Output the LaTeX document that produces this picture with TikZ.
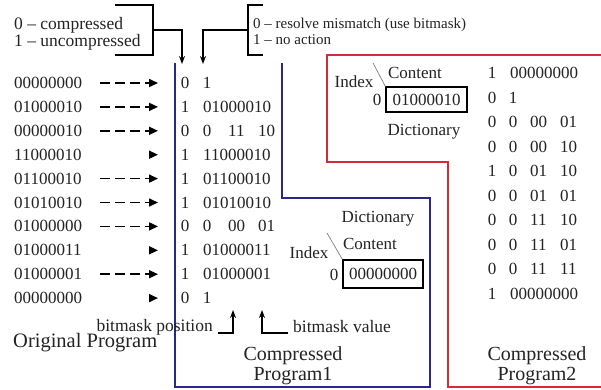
\documentclass[tikz,border=0pt]{standalone}
\usepackage{fontspec}
\setmainfont{Liberation Serif}
\usetikzlibrary{arrows.meta}
\definecolor{pblue}{RGB}{40,40,135}
\definecolor{pred}{RGB}{210,45,55}
\definecolor{ink}{RGB}{35,35,35}
\begin{document}
\begin{tikzpicture}[x=1pt,y=-1pt,
  txt/.style={inner sep=0pt,text=ink,font=\fontsize{17}{20}\selectfont},
  dw/.style={txt,anchor=west},
  dc/.style={txt,anchor=center},
  leftleg/.style={inner sep=0pt,text=ink,anchor=west,font=\fontsize{17.5}{18}\selectfont},
  rightleg/.style={inner sep=0pt,text=ink,anchor=west,font=\fontsize{15}{16}\selectfont},
  biglbl/.style={inner sep=0pt,text=ink,align=center,font=\fontsize{20}{20}\selectfont},
  brk/.style={line width=1.4pt,draw=black},
  darr/.style={line width=1.6pt,dash pattern=on 10pt off 5pt,-{Triangle[length=9pt,width=8pt]}},
  sarr/.style={line width=1.6pt,-{Triangle[length=9pt,width=8pt]}},
  smallhead/.style={-{Stealth[length=8pt,width=6pt]}},
  dictbox/.style={draw=black,line width=1.3pt,inner sep=0pt,text=ink,font=\fontsize{17}{20}\selectfont}
]
\useasboundingbox (0,0) rectangle (601,389);
\fill[white] (0,0) rectangle (601,389);

% ---------- legends and brackets ----------
\node[leftleg] (legA1) at (14,25) {0 -- compressed};
\node[leftleg] (legA2) at (14,42) {1 -- uncompressed};
\node[rightleg] (legB1) at (253,25) {0 -- resolve mismatch (use bitmask)};
\node[rightleg] (legB2) at (253,40) {1 -- no action};

\coordinate (la) at (115,5);  \coordinate (lb) at (153,5);
\coordinate (lc) at (153,55); \coordinate (ld) at (115,55);
\coordinate (lm) at (153,30); \coordinate (ln) at (182,30);
\coordinate (lt) at (182,64);
\draw[brk] (la) -- (lb) -- (lc) -- (ld);
\draw[brk,smallhead] (lm) -- (ln) -- (lt);

\coordinate (ra) at (263,5);  \coordinate (rb) at (248,5);
\coordinate (rc) at (248,55); \coordinate (rd) at (263,55);
\coordinate (rm) at (248,30); \coordinate (rn) at (203,30);
\coordinate (rt) at (203,64);
\draw[brk] (ra) -- (rb) -- (rc) -- (rd);
\draw[brk,smallhead] (rm) -- (rn) -- (rt);

% ---------- frames ----------
\draw[pblue,line width=1.4pt] (175,63) -- (175,387) -- (430,387) -- (430,198) -- (282,198) -- (282,63);
\draw[pred,line width=1.4pt] (601,55) -- (327,55) -- (327,162) -- (448,162) -- (448,387) -- (601,387);

% ---------- original program ----------
\foreach \i/\y/\t in {1/83/00000000,2/106.9/01000010,3/130.8/00000010,4/154.7/11000010,
  5/178.6/01100010,6/202.5/01010010,7/226.4/01000000,8/250.3/01000011,9/274.2/01000001,10/298.1/00000000}
  {\node[dw] (o\i) at (14,\y) {\t};}

% ---------- arrows ----------
\foreach \i/\y in {1/83,2/106.9,3/130.8,5/178.6,6/202.5,7/226.4,9/274.2}
  {\coordinate (s\i) at (100,\y); \coordinate (e\i) at (158,\y);
   \draw[darr] (s\i) -- (e\i);}
\foreach \i/\y in {4/154.7,8/250.3,10/298.1}
  {\coordinate (s\i) at (149,\y); \coordinate (e\i) at (158,\y);
   \draw[sarr] (s\i) -- (e\i);}

% ---------- compressed program 1 ----------
\node[dc] (pa1) at (185,83) {0};    \node[dc] (pb1) at (207,83) {1};
\node[dc] (pa2) at (185,106.9) {1}; \node[dw] (pb2) at (203,106.9) {01000010};
\node[dc] (pa3) at (185,130.8) {0}; \node[dc] (pb3) at (207,130.8) {0};
  \node[dw] (pc3) at (228,130.8) {11}; \node[dw] (pd3) at (258,130.8) {10};
\node[dc] (pa4) at (185,154.7) {1}; \node[dw] (pb4) at (203,154.7) {11000010};
\node[dc] (pa5) at (185,178.6) {1}; \node[dw] (pb5) at (203,178.6) {01100010};
\node[dc] (pa6) at (185,202.5) {1}; \node[dw] (pb6) at (203,202.5) {01010010};
\node[dc] (pa7) at (185,226.4) {0}; \node[dc] (pb7) at (207,226.4) {0};
  \node[dw] (pc7) at (228,226.4) {00}; \node[dw] (pd7) at (258,226.4) {01};
\node[dc] (pa8) at (185,250.3) {1}; \node[dw] (pb8) at (203,250.3) {01000011};
\node[dc] (pa9) at (185,274.2) {1}; \node[dw] (pb9) at (203,274.2) {01000001};
\node[dc] (pa10) at (185,298.1) {0}; \node[dc] (pb10) at (207,298.1) {1};

% ---------- dictionary 1 ----------
\node[dc] (d1t) at (378,219) {Dictionary};
\node[dc] (d1c) at (370,244) {Content};
\node[dc] (d1i) at (309,253) {Index};
\node[dc] (d1z) at (334,275) {0};
\node[dictbox,minimum width=80pt,minimum height=28pt] (d1b) at (383,274) {00000000};
\coordinate (d1s) at (327,233);
\draw[gray,line width=0.7pt] (d1s) -- (d1b.north west);

% ---------- dictionary 2 ----------
\node[dc] (d2c) at (415,73) {Content};
\node[dc] (d2i) at (354,82) {Index};
\node[dc] (d2z) at (377,100) {0};
\node[dictbox,minimum width=81pt,minimum height=25pt] (d2b) at (426.5,99.5) {01000010};
\node[dc] (d2t) at (424,132) {Dictionary};
\coordinate (d2s) at (373,63);
\draw[gray,line width=0.7pt] (d2s) -- (d2b.north west);

% ---------- compressed program 2 ----------
\node[dc] (qa1) at (492,73) {1};    \node[dw] (qb1) at (510,73) {00000000};
\node[dc] (qa2) at (492,97.5) {0};  \node[dc] (qb2) at (513,97.5) {1};
\foreach \i/\y/\a/\b/\c/\d in {3/122/0/0/00/01,4/146.5/0/0/00/10,5/171/1/0/01/10,6/195.5/0/0/01/01,
  7/220/0/0/11/10,8/244.5/0/0/11/01,9/269/0/0/11/11}
  {\node[dc] (qa\i) at (492,\y) {\a}; \node[dc] (qb\i) at (513,\y) {\b};
   \node[dw] (qc\i) at (530,\y) {\c}; \node[dw] (qd\i) at (560,\y) {\d};}
\node[dc] (qa10) at (492,293.5) {1}; \node[dw] (qb10) at (510,293.5) {00000000};

% ---------- bitmask annotations ----------
\node[txt,anchor=east,font=\fontsize{17.5}{20}\selectfont] (bpos) at (213,327) {bitmask position};
\node[txt,anchor=west,font=\fontsize{17.5}{20}\selectfont] (bval) at (293,327) {bitmask value};
\coordinate (bp1) at (218,333); \coordinate (bp2) at (233,333); \coordinate (bp3) at (233,310);
\coordinate (bv1) at (288,333); \coordinate (bv2) at (262,333); \coordinate (bv3) at (262,310);
\draw[brk,smallhead] (bp1) -- (bp2) -- (bp3);
\draw[brk,smallhead] (bv1) -- (bv2) -- (bv3);

% ---------- captions ----------
\node[biglbl,anchor=west,font=\fontsize{20.5}{20}\selectfont] (origlbl) at (13,343) {Original Program};
\node[biglbl] (c1lbl) at (293,366) {Compressed\\Program1};
\node[biglbl] (c2lbl) at (537,366) {Compressed\\Program2};
\end{tikzpicture}
\end{document}
